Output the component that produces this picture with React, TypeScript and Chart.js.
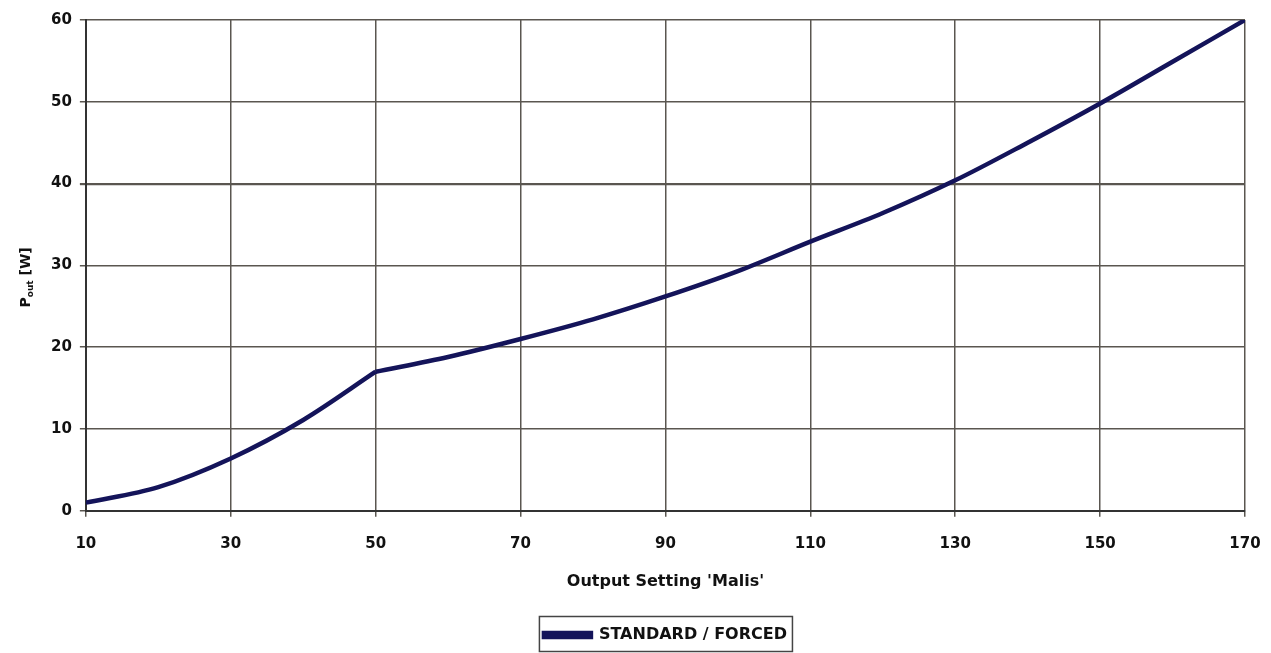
import React, { useEffect, useRef } from "react";
import { Chart, registerables } from "chart.js";

Chart.register(...registerables);

const outputSetting = [10, 20, 30, 40, 50, 60, 70, 80, 90, 100, 110, 120, 130, 140, 150, 160, 170];
const pOut = [1.0, 2.9, 6.4, 11.1, 17.0, 18.8, 21.0, 23.4, 26.2, 29.3, 32.9, 36.4, 40.4, 45.0, 49.8, 54.9, 60.0];
const kinkSetting = 50; // the curve has a sharp corner here
const seriesName = "STANDARD / FORCED";
const xTitle = "Output Setting 'Malis'";
const yTitleMain = "P";
const yTitleSub = "out";
const yTitleUnit = " [W]";

const FONT = "'DejaVu Sans', Verdana, sans-serif";
const LINE_COLOR = "#14145a";
const GRID_COLOR = "#5a5650";

const yTitlePlugin = {
  id: "yTitleSub",
  afterDraw(chart: any) {
    const ctx = chart.ctx;
    const area = chart.chartArea;
    const cy = (area.top + area.bottom) / 2 + 12;
    ctx.save();
    ctx.translate(30, cy);
    ctx.rotate(-Math.PI / 2);
    ctx.fillStyle = "#111";
    ctx.textBaseline = "alphabetic";
    const big = `bold 14px ${FONT}`;
    const small = `bold 9px ${FONT}`;
    ctx.font = big;
    const w1 = ctx.measureText(yTitleMain).width;
    ctx.font = small;
    const w2 = ctx.measureText(yTitleSub).width;
    ctx.font = big;
    const w3 = ctx.measureText(yTitleUnit).width;
    const total = w1 + w2 + w3;
    let x = -total / 2;
    ctx.font = big;
    ctx.fillText(yTitleMain, x, 0);
    x += w1;
    ctx.font = small;
    ctx.fillText(yTitleSub, x, 3);
    x += w2;
    ctx.font = big;
    ctx.fillText(yTitleUnit, x, 0);
    ctx.restore();
  },
};

const legendBorderPlugin = {
  id: "legendBorder",
  afterDraw(chart: any) {
    const lg = chart.legend;
    if (!lg || !lg.legendHitBoxes || !lg.legendHitBoxes.length) return;
    const b = lg.legendHitBoxes[0];
    const ctx = chart.ctx;
    ctx.save();
    ctx.strokeStyle = "#444";
    ctx.lineWidth = 1.5;
    ctx.strokeRect(b.left - 4.5, b.top - 10.5, b.width + 10, b.height + 19);
    ctx.restore();
  },
};

export default function App() {
  const ref = useRef<HTMLCanvasElement | null>(null);
  useEffect(() => {
    document.body.style.margin = "0";
    const canvas = ref.current;
    if (!canvas) return;
    const pts = outputSetting.map((x, i) => ({ x, y: pOut[i] }));
    const lower = pts.filter((p) => p.x <= kinkSetting);
    const upper = pts.filter((p) => p.x >= kinkSetting);
    const common = {
      borderColor: LINE_COLOR,
      backgroundColor: LINE_COLOR,
      borderWidth: 4.5,
      pointRadius: 0,
      cubicInterpolationMode: "monotone",
    };
    const chart = new Chart(canvas, {
      type: "line",
      data: {
        datasets: [
          { label: seriesName, data: lower, ...common },
          { label: "_upper", data: upper, ...common },
        ],
      },
      options: {
        animation: false,
        responsive: false,
        maintainAspectRatio: false,
        layout: { padding: { left: 43, right: 26, top: 20, bottom: 0 } },
        scales: {
          x: {
            type: "linear",
            min: 10,
            max: 170,
            afterFit: (scale: any) => {
              scale.paddingRight = 18;
              scale.paddingLeft = 18;
            },
            ticks: {
              stepSize: 20,
              color: "#111",
              font: { family: FONT, size: 15, weight: "bold" },
              padding: 18,
            },
            grid: { color: GRID_COLOR, lineWidth: 1.5, tickLength: 6, tickColor: GRID_COLOR },
            border: { color: "#333", width: 2 },
            title: {
              display: true,
              text: xTitle,
              color: "#111",
              font: { family: FONT, size: 16, weight: "bold" },
              padding: { top: 1, bottom: 24 },
            },
          },
          y: {
            min: 0,
            max: 60,
            ticks: {
              stepSize: 10,
              color: "#111",
              font: { family: FONT, size: 15, weight: "bold" },
              padding: 8,
            },
            grid: {
              color: GRID_COLOR,
              lineWidth: (c: any) => (c.tick && c.tick.value === 40 ? 2.2 : 1.5),
              tickLength: 6,
              tickColor: GRID_COLOR,
            },
            border: { color: "#333", width: 2 },
          },
        },
        plugins: {
          legend: {
            position: "bottom",
            fullSize: false,
            labels: {
              color: "#111",
              font: { family: FONT, size: 16, weight: "bold" },
              boxWidth: 47,
              boxHeight: 4,
              padding: 12,
              filter: (item: any) => item.datasetIndex === 0,
            },
          },
          tooltip: { enabled: false },
        },
      },
      plugins: [yTitlePlugin, legendBorderPlugin],
    } as any);
    return () => chart.destroy();
  }, []);
  return (
    <div style={{ width: 1271, height: 653, background: "#fff" }}>
      <canvas ref={ref} width={1271} height={653} style={{ display: "block" }} />
    </div>
  );
}
